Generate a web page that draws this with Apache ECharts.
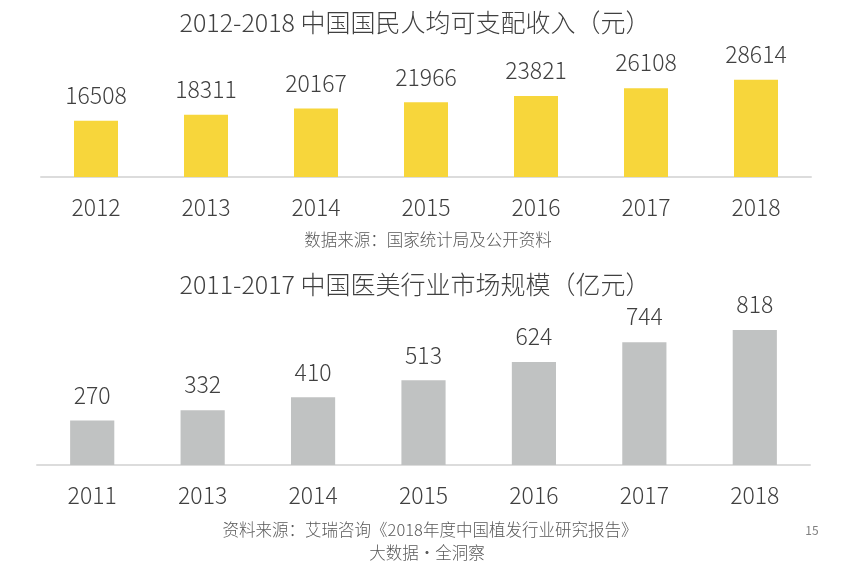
<!DOCTYPE html>
<html>
<head>
<meta charset="utf-8">
<script src="https://cdn.jsdelivr.net/npm/echarts@6/dist/echarts.min.js"></script>
<style>
html,body{margin:0;padding:0;background:#fff;}
#chart{width:868px;height:571px;}
</style>
</head>
<body>
<div id="chart"></div>
<script>
const incomeYears = ['2012','2013','2014','2015','2016','2017','2018'];
const incomeValues = [16508, 18311, 20167, 21966, 23821, 26108, 28614];
const marketYears = ['2011','2013','2014','2015','2016','2017','2018'];
const marketValues = [270, 332, 410, 513, 624, 744, 818];
const titleTop = '2012-2018 中国国民人均可支配收入（元）';
const titleBottom = '2011-2017 中国医美行业市场规模（亿元）';
const sourceTop = '数据来源：国家统计局及公开资料';
const sourceBottom = '资料来源：艾瑞咨询《2018年度中国植发行业研究报告》';
const footer = '大数据·全洞察';
const pageNo = '15';

const FONT = '"Noto Sans CJK SC", "Noto Sans", sans-serif';
const TXT = '#404040';

const chart = echarts.init(document.getElementById('chart'));
const axisX = (idx, data) => ({
  type: 'category', gridIndex: idx, data: data,
  axisLine: {show: true, lineStyle: {color: '#dcdcdc', width: 2}},
  axisTick: {show: false},
  axisLabel: {fontSize: 23, color: TXT, margin: 19, fontFamily: FONT, fontWeight: 300}
});
const axisY = (idx, max) => ({
  type: 'value', gridIndex: idx, min: 0, max: max,
  show: false, splitLine: {show: false}
});
chart.setOption({
  animation: false,
  backgroundColor: '#fff',
  title: [
    {text: titleTop, left: 410, textAlign: 'center', top: 5,
     textStyle: {fontSize: 25, fontWeight: 300, color: TXT, fontFamily: FONT}},
    {text: titleBottom, left: 410, textAlign: 'center', top: 267,
     textStyle: {fontSize: 25, fontWeight: 300, color: TXT, fontFamily: FONT}}
  ],
  grid: [
    {left: 41, right: 57, top: 75, height: 102},
    {left: 37, right: 58, top: 300, height: 165}
  ],
  xAxis: [axisX(0, incomeYears), axisX(1, marketYears)],
  yAxis: [axisY(0, 30000), axisY(1, 1000)],
  series: [
    {type: 'bar', xAxisIndex: 0, yAxisIndex: 0, data: incomeValues, barWidth: '40%',
     itemStyle: {color: '#F7D63B'},
     label: {show: true, position: 'top', distance: 14, fontSize: 23, color: TXT, fontFamily: FONT, fontWeight: 300}},
    {type: 'bar', xAxisIndex: 1, yAxisIndex: 1, data: marketValues, barWidth: '40%',
     itemStyle: {color: '#C0C2C2'},
     label: {show: true, position: 'top', distance: 14, fontSize: 23, color: TXT, fontFamily: FONT, fontWeight: 300}}
  ],
  graphic: [
    {type: 'text', x: 428, y: 240, style: {text: sourceTop, fontSize: 16.5, fill: '#595959', fontFamily: FONT, fontWeight: 300, align: 'center', verticalAlign: 'middle'}},
    {type: 'text', x: 430, y: 530, style: {text: sourceBottom, fontSize: 16.5, fill: '#595959', fontFamily: FONT, fontWeight: 300, align: 'center', verticalAlign: 'middle'}},
    {type: 'text', x: 427, y: 553, style: {text: footer, fontSize: 16.5, fill: '#595959', fontFamily: FONT, fontWeight: 300, align: 'center', verticalAlign: 'middle'}},
    {type: 'text', x: 812, y: 530, style: {text: pageNo, fontSize: 12, fill: '#7f7f7f', fontFamily: FONT, align: 'center', verticalAlign: 'middle'}}
  ]
});
</script>
</body>
</html>
